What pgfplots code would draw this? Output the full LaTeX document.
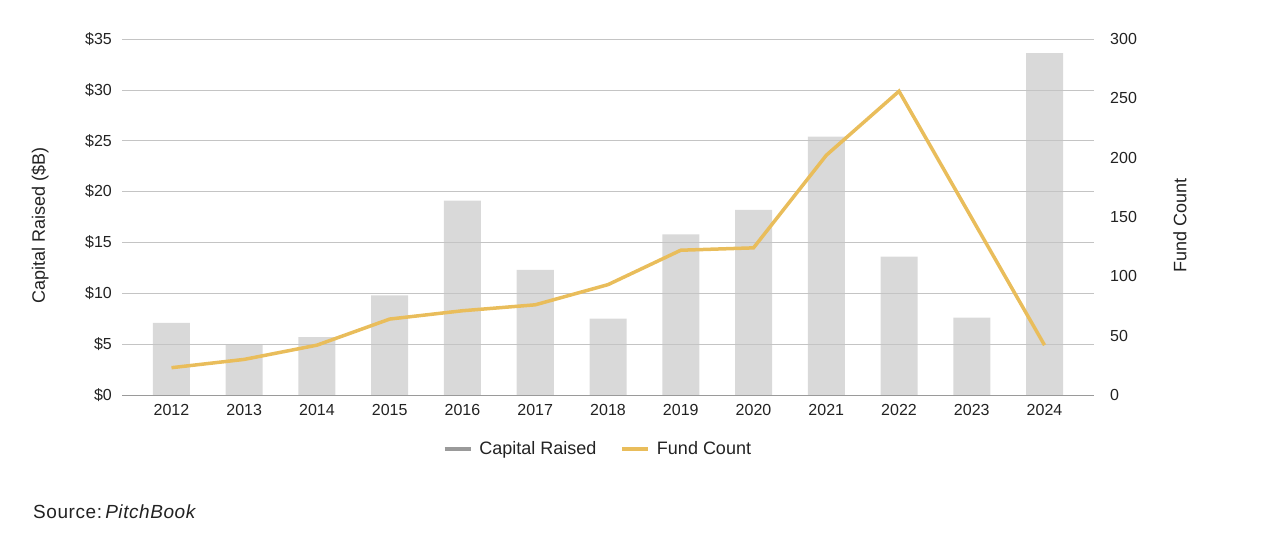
\documentclass[border=0pt]{standalone}
\usepackage{pgfplots}
\pgfplotsset{compat=1.18}
\usepackage{fontspec}
\setmainfont{Liberation Sans}
\definecolor{barfill}{HTML}{D9D9D9}
\definecolor{gridc}{HTML}{C4C4C4}
\definecolor{gold}{HTML}{E9BD5B}
\definecolor{legray}{HTML}{9A9A9A}
\definecolor{txt}{HTML}{222222}
\newcommand\chartfont{\fontsize{16pt}{19pt}\selectfont}
\newcommand\labelfont{\fontsize{18pt}{21pt}\selectfont}
\begin{document}
\begin{tikzpicture}
\path[use as bounding box] (0,0) rectangle (1280pt,547pt);
\pgfplotsset{
  base/.style={
    at={(122pt,152pt)}, anchor=south west,
    width=972pt, height=356pt, scale only axis,
    xmin=-0.68, xmax=12.68,
    major tick length=0pt,
    /pgf/number format/assume math mode=true,
    tick label style={font=\chartfont, text=txt},
    label style={font=\labelfont, text=txt},
  }
}
\begin{axis}[
    base,
    ymin=0, ymax=35,
    axis on top=true,
    axis x line*=bottom, axis y line*=left,
    y axis line style={draw=none},
    x axis line style={draw=legray, line width=0.8pt},
    ymajorgrids, grid style={gridc, line width=0.7pt},
    xtick={0,...,12},
    xticklabels={2012,2013,2014,2015,2016,2017,2018,2019,2020,2021,2022,2023,2024},
    xticklabel style={inner sep=0pt, yshift=-9pt},
    ytick={0,5,...,35},
    yticklabels={\$0,\$5,\$10,\$15,\$20,\$25,\$30,\$35},
    yticklabel style={inner sep=0pt, xshift=-10pt},
    ylabel={Capital Raised (\$B)},
    ylabel style={at={(axis description cs:-0.0844,0.475)}, anchor=center},
]
\addplot[ybar, bar width=37pt, fill=barfill, draw=none] coordinates {
  (0,7.1) (1,5.0) (2,5.7) (3,9.8) (4,19.1) (5,12.3) (6,7.5)
  (7,15.8) (8,18.2) (9,25.4) (10,13.6) (11,7.6) (12,33.6)
};
\end{axis}
\begin{axis}[
    base,
    ymin=0, ymax=300,
    hide x axis,
    axis y line*=right,
    y axis line style={draw=none},
    ytick={0,50,...,300},
    yticklabel style={inner sep=0pt, xshift=16pt},
    ylabel={Fund Count},
    ylabel style={at={(axis description cs:1.0885,0.4775)}, anchor=center},
    legend style={at={(axis description cs:0.4897,-0.152)}, anchor=center,
      draw=none, fill=none, legend columns=2, font=\labelfont, text=txt,
      /tikz/every odd column/.append style={column sep=5pt},
      /tikz/every even column/.append style={column sep=22pt}},
    legend image code/.code={\draw[#1] (0pt,0pt) -- (26pt,0pt);},
]
\addlegendimage{legray, line width=3.5pt}
\addlegendentry{Capital Raised}
\addplot[gold, line width=3.5pt, mark=none] coordinates {
  (0,23) (1,30) (2,42) (3,64) (4,71) (5,76) (6,93)
  (7,122) (8,124) (9,202) (10,256) (11,149) (12,42)
};
\addlegendentry{Fund Count}
\end{axis}
\node[anchor=base west, text=txt, inner sep=0pt] at (33pt,29pt)
  {\fontsize{19pt}{22pt}\selectfont\addfontfeature{LetterSpace=3}Source:\,\textit{PitchBook}};
\end{tikzpicture}
\end{document}
